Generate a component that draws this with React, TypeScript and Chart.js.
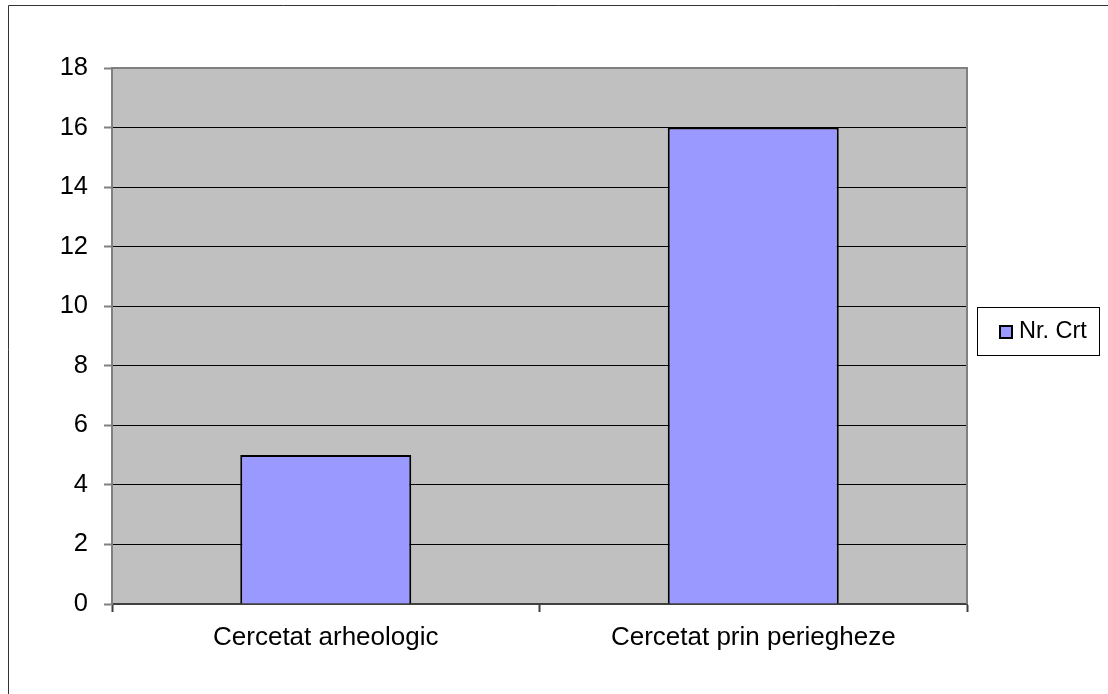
import React, { useEffect, useRef } from "react";
import { Chart, registerables } from "chart.js";

Chart.register(...registerables);

const categories = ["Cercetat arheologic", "Cercetat prin periegheze"];
const seriesLabel = "Nr. Crt";
const seriesValues = [5, 16];
const yMin = 0;
const yMax = 18;
const yStep = 2;

const FONT = "'Liberation Sans', Arial, sans-serif";

const decorPlugin = {
  id: "decor",
  beforeDraw(chart: any) {
    const { ctx, chartArea } = chart;
    ctx.save();
    // outer frame
    ctx.strokeStyle = "#333333";
    ctx.lineWidth = 1;
    ctx.beginPath();
    ctx.moveTo(8.5, 694);
    ctx.lineTo(8.5, 5.5);
    ctx.lineTo(1108, 5.5);
    ctx.stroke();
    // plot background
    ctx.fillStyle = "#C0C0C0";
    ctx.fillRect(chartArea.left, chartArea.top, chartArea.right - chartArea.left, chartArea.bottom - chartArea.top);
    ctx.restore();
  },
  afterDatasetsDraw(chart: any) {
    const { ctx, chartArea } = chart;
    ctx.save();
    ctx.strokeStyle = "#808080";
    ctx.lineWidth = 2;
    ctx.beginPath();
    ctx.moveTo(chartArea.left, chartArea.top);
    ctx.lineTo(chartArea.right, chartArea.top);
    ctx.lineTo(chartArea.right, chartArea.bottom);
    ctx.stroke();
    ctx.restore();
  },
  afterDraw(chart: any) {
    const { ctx } = chart;
    const ds = chart.data.datasets[0];
    ctx.save();
    // legend box
    ctx.fillStyle = "#FFFFFF";
    ctx.fillRect(977.5, 307.5, 122, 48);
    ctx.strokeStyle = "#000000";
    ctx.lineWidth = 1;
    ctx.strokeRect(977.5, 307.5, 122, 48);
    // marker
    ctx.fillStyle = ds.backgroundColor;
    ctx.fillRect(1000, 326, 12, 12);
    ctx.lineWidth = 2;
    ctx.strokeRect(1000, 326, 12, 12);
    // text
    ctx.fillStyle = "#000000";
    ctx.font = `23.5px ${FONT}`;
    ctx.textBaseline = "middle";
    ctx.textAlign = "left";
    ctx.fillText(ds.label, 1019, 332);
    ctx.restore();
  },
};

export default function App() {
  const canvasRef = useRef<HTMLCanvasElement | null>(null);

  useEffect(() => {
    const canvas = canvasRef.current;
    if (!canvas) return;
    const chart = new Chart(canvas, {
      type: "bar",
      data: {
        labels: categories,
        datasets: [
          {
            label: seriesLabel,
            data: seriesValues,
            backgroundColor: "#9999FF",
            borderColor: "#000000",
            borderWidth: 2,
            barPercentage: 0.4,
            categoryPercentage: 1,
          },
        ],
      },
      plugins: [decorPlugin],
      options: {
        animation: false,
        responsive: false,
        devicePixelRatio: 1,
        layout: { padding: { top: 68, right: 141, left: 0, bottom: 0 } },
        plugins: {
          legend: { display: false },
          tooltip: { enabled: false },
          title: { display: false },
        },
        scales: {
          x: {
            afterFit(scale: any) {
              scale.height = 90;
            },
            grid: {
              display: true,
              drawOnChartArea: false,
              drawTicks: true,
              tickLength: 8,
              tickColor: "#404040",
              tickWidth: 2,
              offset: true,
            },
            border: { display: true, color: "#404040", width: 2 },
            ticks: {
              color: "#000000",
              font: { family: FONT, size: 26 },
              padding: 10,
              maxRotation: 0,
            },
          },
          y: {
            min: yMin,
            max: yMax,
            afterFit(scale: any) {
              scale.width = 112;
            },
            grid: {
              color: "#000000",
              lineWidth: 1,
              drawTicks: true,
              tickLength: 8,
              tickColor: "#808080",
              tickWidth: 2,
            },
            border: { display: true, color: "#808080", width: 2 },
            ticks: {
              stepSize: yStep,
              color: "#000000",
              font: { family: FONT, size: 25.5 },
              padding: 16,
            },
          },
        },
      },
    });
    return () => chart.destroy();
  }, []);

  return (
    <canvas
      ref={canvasRef}
      width={1108}
      height={694}
      style={{ position: "fixed", left: 0, top: 0, width: 1108, height: 694, display: "block" }}
    />
  );
}
